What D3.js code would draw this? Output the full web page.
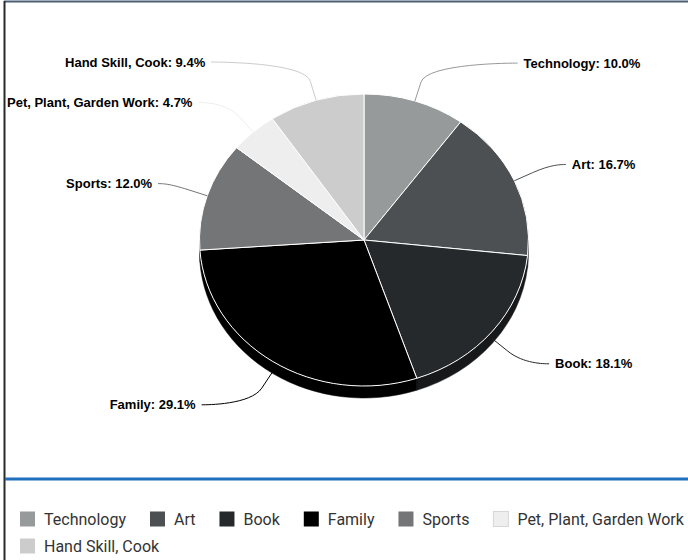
<!DOCTYPE html>
<html>
<head>
<meta charset="utf-8">
<script src="https://cdnjs.cloudflare.com/ajax/libs/d3/7.8.5/d3.min.js"></script>
<style>
  body { margin: 0; background: #fff; }
  svg { display: block; }
</style>
</head>
<body>
<div id="chart"></div>
<script>
// data
var categories = ["Technology", "Art", "Book", "Family", "Sports", "Pet, Plant, Garden Work", "Hand Skill, Cook"];
var shares = [10.0, 16.7, 18.1, 29.1, 12.0, 4.7, 9.4];
var colours = ["#979a9a", "#4d5052", "#26292c", "#000000", "#737577", "#eeeeee", "#cccccc"];

var width = 688, height = 560;

var svg = d3.select("#chart").append("svg")
    .attr("width", width)
    .attr("height", height);

// frame
svg.append("line")
    .attr("x1", 4).attr("x2", width).attr("y1", 1.5).attr("y2", 1.5)
    .attr("stroke", "#4b5e74").attr("stroke-width", 2);
svg.append("line")
    .attr("x1", 4.5).attr("x2", 4.5).attr("y1", 1).attr("y2", height)
    .attr("stroke", "#2a2a2a").attr("stroke-width", 2);

// pie geometry (tilted, so the top face is an ellipse)
var cx = 364, cy = 240, rx = 164.5, ry = 146, depth = 12;

var pie = d3.pie().sort(null).value(d => d.value);
var slices = pie(categories.map((c, i) => ({ name: c, value: shares[i], colour: colours[i] })));

function pt(a, grow, down) {
    return [cx + (rx + grow) * Math.sin(a), cy - (ry + grow) * Math.cos(a) + (down || 0)];
}

var g = svg.append("g");

// side walls, only the front half shows
slices.forEach(function(s) {
    var a0 = Math.max(s.startAngle, Math.PI / 2);
    var a1 = Math.min(s.endAngle, Math.PI * 1.5);
    if (a1 <= a0) return;
    var p0 = pt(a0, 0), p1 = pt(a1, 0);
    var large = (a1 - a0) > Math.PI ? 1 : 0;
    var path = "M" + p0 + "A" + rx + "," + ry + " 0 " + large + " 1 " + p1 +
        "L" + [p1[0], p1[1] + depth] +
        "A" + rx + "," + ry + " 0 " + large + " 0 " + [p0[0], p0[1] + depth] + "Z";
    g.append("path")
        .attr("d", path)
        .attr("fill", d3.color(s.data.colour).darker(1.5))
        .attr("stroke", d3.color(s.data.colour).darker(1.5))
        .attr("stroke-width", 0.5);
});

// top faces: circular arcs squashed to the ellipse
var arc = d3.arc().innerRadius(0).outerRadius(rx);
g.append("g")
    .attr("transform", "translate(" + cx + "," + cy + ") scale(1," + (ry / rx) + ")")
    .selectAll("path")
    .data(slices)
    .enter().append("path")
    .attr("d", arc)
    .attr("fill", d => d.data.colour)
    .attr("stroke", "#ffffff")
    .attr("stroke-width", 1)
    .attr("stroke-linejoin", "round")
    .attr("vector-effect", "non-scaling-stroke");

// data labels with soft connectors
var labelGroup = svg.append("g");
var labelRx = 211, labelRy = 258, labelDist = 40;

slices.forEach(function(s) {
    var mid = (s.startAngle + s.endAngle) / 2;
    var cosm = Math.cos(mid);
    var drop = cosm < 0 ? -cosm * depth : 0;
    var right = Math.sin(mid) >= 0;
    var ly = cy - (ry + labelDist) * cosm + drop;
    var dy = ly - cy;
    var off = labelRx * Math.sqrt(Math.max(0, 1 - (dy / labelRy) * (dy / labelRy)));

    var text = labelGroup.append("text")
        .attr("y", ly)
        .attr("dy", "0.35em")
        .attr("font-family", "'Liberation Sans', Arial, sans-serif")
        .attr("font-weight", "bold")
        .attr("font-size", "13px")
        .attr("fill", "#000000")
        .text(s.data.name + ": " + s.data.value.toFixed(1) + "%");
    var w = text.node().getComputedTextLength();

    var lineX;
    if (right) {
        var start = cx + off + 6;
        if (start + w > width - 6) start = width - 6 - w;
        text.attr("x", start).attr("text-anchor", "start");
        lineX = start - 6;
    } else {
        var end = cx - off - 6;
        if (end - w < 7) end = 7 + w;
        text.attr("x", end).attr("text-anchor", "end");
        lineX = end + 6;
    }

    var t = pt(mid, 0, drop);
    var b = pt(mid, 20, drop);
    var path = d3.path();
    path.moveTo(lineX, ly);
    path.bezierCurveTo(lineX + (right ? -5 : 5), ly, 2 * b[0] - t[0], 2 * b[1] - t[1], b[0], b[1]);
    path.lineTo(t[0], t[1]);
    labelGroup.insert("path", "text")
        .attr("d", path.toString())
        .attr("fill", "none")
        .attr("stroke", s.data.colour === "#000000" ? "#000000" : s.data.colour)
        .attr("stroke-width", 1);
});

// separator above legend
svg.append("line")
    .attr("x1", 5).attr("x2", width).attr("y1", 479).attr("y2", 479)
    .attr("stroke", "#1f6fbf").attr("stroke-width", 3);

// legend, flowing into rows
var legend = svg.append("g");
var lx = 20, lyRow = 519, rowGap = 27, swatch = 15, maxX = width - 2;
categories.forEach(function(c, i) {
    var item = legend.append("g");
    item.append("rect")
        .attr("width", swatch).attr("height", swatch)
        .attr("fill", colours[i])
        .attr("stroke", colours[i] === "#eeeeee" ? "#d6d6d6" : "none")
        .attr("stroke-width", 1);
    var t = item.append("text")
        .attr("x", swatch + 9)
        .attr("y", swatch / 2)
        .attr("dy", "0.35em")
        .attr("font-family", "Roboto, sans-serif")
        .attr("font-size", "16px")
        .attr("fill", "#333333")
        .text(c);
    var w = swatch + 9 + t.node().getComputedTextLength();
    if (lx + w > maxX && lx > 20) {
        lx = 20;
        lyRow += rowGap;
    }
    item.attr("transform", "translate(" + lx + "," + (lyRow - swatch / 2) + ")");
    lx += w + 24;
});
</script>
</body>
</html>
